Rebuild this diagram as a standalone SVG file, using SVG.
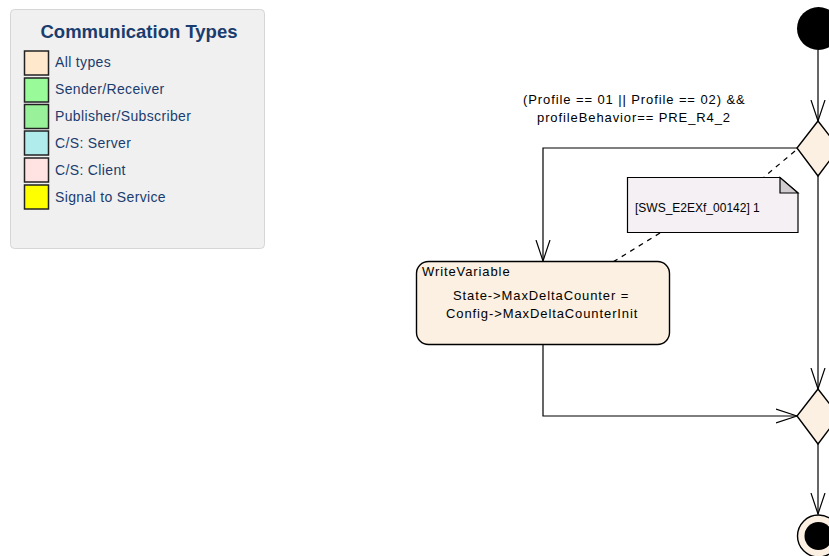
<svg xmlns="http://www.w3.org/2000/svg" width="829" height="556" viewBox="0 0 829 556">
<style>
.t{font-family:"Liberation Sans",Arial,sans-serif;font-size:13px;letter-spacing:0.9px;fill:#000}
.lg{font-family:"Liberation Sans",Arial,sans-serif;font-size:14px;letter-spacing:0.35px;fill:#1a3c6e}
.sw{stroke:#222;stroke-width:1.5}
.ln{fill:none;stroke:#000;stroke-width:1.2}
.dash{fill:none;stroke:#000;stroke-width:1.2;stroke-dasharray:5,5}
.node{fill:#fbf0e1;stroke:#000;stroke-width:1.4}
</style>
<defs>
<marker id="arr" viewBox="0 0 22 16" refX="21" refY="8" markerWidth="22" markerHeight="16" markerUnits="userSpaceOnUse" orient="auto">
<path d="M0,1 L21,8 L0,15" fill="none" stroke="#000" stroke-width="1.2"/>
</marker>
</defs>
<g id="legend">
<rect x="10.5" y="9.5" width="254" height="239" rx="4" fill="#f0f0f0" stroke="#d6d6d6"/>
<text x="139" y="38" text-anchor="middle" style="font-family:'Liberation Sans',Arial,sans-serif;font-size:18.5px;font-weight:bold;fill:#1a3c6e">Communication Types</text>
<rect class="sw" x="24.5" y="51" width="24" height="24" fill="#ffe8cc"/>
<text class="lg" x="55" y="67">All types</text>
<rect class="sw" x="24.5" y="78" width="24" height="24" fill="#99fa99"/>
<text class="lg" x="55" y="94">Sender/Receiver</text>
<rect class="sw" x="24.5" y="104.5" width="24" height="24" fill="#99f299"/>
<text class="lg" x="55" y="121">Publisher/Subscriber</text>
<rect class="sw" x="24.5" y="131" width="24" height="24" fill="#b0ecec"/>
<text class="lg" x="55" y="148">C/S: Server</text>
<rect class="sw" x="24.5" y="158" width="24" height="24" fill="#ffe2e2"/>
<text class="lg" x="55" y="175">C/S: Client</text>
<rect class="sw" x="24.5" y="185" width="24" height="24" fill="#ffff00"/>
<text class="lg" x="55" y="202">Signal to Service</text>
</g>
<g id="connectors">
<line class="ln" x1="818" y1="50" x2="818" y2="121" marker-end="url(#arr)"/>
<polyline class="ln" points="797,148 543,148 543,261" marker-end="url(#arr)"/>
<line class="ln" x1="818" y1="176" x2="818" y2="389" marker-end="url(#arr)"/>
<polyline class="ln" points="543,344 543,416 797,416" marker-end="url(#arr)"/>
<line class="ln" x1="818" y1="444" x2="818" y2="514" marker-end="url(#arr)"/>
<line class="dash" x1="795" y1="151" x2="764" y2="177"/>
<line class="dash" x1="660" y1="233" x2="613" y2="262"/>
<text class="t" x="523" y="104">(Profile == 01 || Profile == 02) &amp;&amp;</text>
<text class="t" x="537" y="122">profileBehavior== PRE_R4_2</text>
</g>
<g id="start">
<circle cx="818.5" cy="28.5" r="21.5" fill="#000"/>
</g>
<g id="decision1">
<polygon class="node" points="818,121 839,148 818,176 797,148"/>
</g>
<g id="note">
<path d="M627.5,177.5 H780 L798,193 V232.5 H627.5 Z" fill="#f4f0f4" stroke="#000" stroke-width="1.2"/>
<path d="M780,177.5 V193 H798 Z" fill="#d0ccd0" stroke="#000" stroke-width="1.2"/>
<text class="t" x="635" y="212" style="font-size:12px;letter-spacing:0">[SWS_E2EXf_00142] 1</text>
</g>
<g id="writeVariable">
<rect class="node" x="416.5" y="261.5" width="253" height="83" rx="12"/>
<text class="t" x="422" y="276">WriteVariable</text>
<text class="t" x="453" y="300">State-&gt;MaxDeltaCounter =</text>
<text class="t" x="446" y="318">Config-&gt;MaxDeltaCounterInit</text>
</g>
<g id="decision2">
<polygon class="node" points="818,389 839,416 818,444 797,416"/>
</g>
<g id="end">
<circle cx="818.5" cy="536" r="21" fill="#fbf0e1" stroke="#000" stroke-width="1.4"/>
<circle cx="818.5" cy="536" r="14" fill="#000"/>
</g>
</svg>
